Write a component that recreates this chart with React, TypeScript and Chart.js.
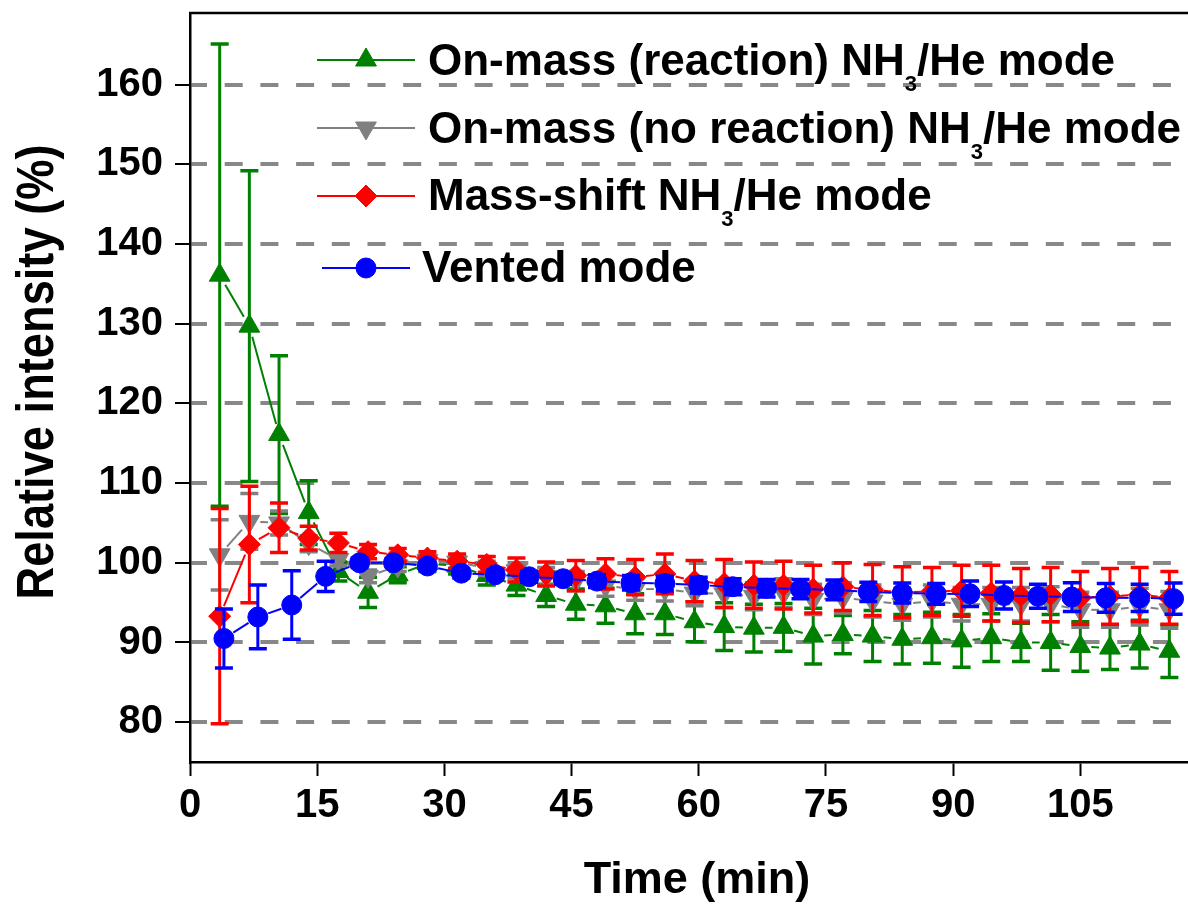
import React, { useEffect, useRef } from "react";
import { Chart, registerables } from "chart.js";

Chart.register(...registerables);

const FONT = '"Liberation Sans", Arial, Helvetica, sans-serif';

// ---------------- data ----------------
const nh3Times = [3.5, 7, 10.5, 14, 17.5, 21, 24.5, 28, 31.5, 35, 38.5, 42, 45.5, 49, 52.5, 56, 59.5, 63, 66.5, 70, 73.5, 77, 80.5, 84, 87.5, 91, 94.5, 98, 101.5, 105, 108.5, 112, 115.5];
const ventedTimes = [4, 8, 12, 16, 20, 24, 28, 32, 36, 40, 44, 48, 52, 56, 60, 64, 68, 72, 76, 80, 84, 88, 92, 96, 100, 104, 108, 112, 116];

const reactionMean = [136.1, 129.7, 116.1, 106.3, 98.9, 96.3, 98.5, 99.9, 99.6, 98.4, 97.2, 95.9, 94.8, 94.6, 93.6, 93.6, 92.6, 92.0, 91.8, 91.9, 90.8, 91.0, 90.8, 90.4, 90.6, 90.2, 90.6, 90.0, 90.0, 89.5, 89.3, 89.8, 88.9];
const reactionErr = [29, 19.5, 9.9, 4.0, 1.2, 1.9, 1.0, 1.0, 1.0, 1.2, 1.3, 1.4, 1.9, 2.2, 2.5, 2.6, 2.5, 3.0, 3.0, 3.0, 3.5, 2.4, 3.2, 3.1, 3.2, 3.3, 3.0, 2.4, 3.5, 3.1, 2.7, 3.0, 3.3];

const noReactionMean = [101.0, 105.2, 105.0, 102.4, 100.4, 98.3, 99.6, 100.3, 100.1, 99.3, 99.0, 98.3, 97.7, 97.1, 96.7, 96.7, 96.2, 96.1, 95.8, 96.2, 95.4, 95.6, 95.2, 94.8, 95.2, 94.8, 94.8, 94.8, 94.8, 94.1, 94.1, 94.5, 94.1];
const noReactionErr = [4.4, 3.5, 1.5, 1.0, 0.8, 0.8, 0.7, 0.7, 0.8, 0.9, 1.0, 1.1, 1.2, 1.3, 1.4, 1.5, 1.6, 1.7, 1.7, 1.8, 1.9, 1.9, 2.0, 2.0, 2.0, 2.1, 2.1, 2.1, 2.2, 2.2, 2.2, 2.3, 2.3];

const massShiftMean = [93.3, 102.3, 104.4, 103.1, 102.5, 101.4, 101.0, 100.6, 100.2, 99.8, 99.1, 98.6, 98.4, 98.6, 98.2, 98.6, 97.7, 97.4, 97.2, 97.2, 96.7, 97.0, 96.6, 96.3, 96.4, 96.5, 96.2, 95.9, 96.0, 95.6, 95.8, 96.0, 95.6];
const massShiftErr = [13.5, 7.3, 3.1, 1.5, 1.2, 0.9, 0.8, 0.8, 0.9, 1.0, 1.5, 1.5, 1.9, 1.9, 2.2, 2.5, 2.6, 3.0, 2.9, 3.0, 3.0, 3.0, 3.2, 3.2, 3.0, 3.2, 3.5, 3.4, 3.4, 3.3, 3.5, 3.4, 3.3];

const ventedMean = [90.5, 93.2, 94.7, 98.3, 100.0, 100.0, 99.6, 98.7, 98.5, 98.25, 98.0, 97.7, 97.5, 97.4, 97.2, 97.0, 96.8, 96.7, 96.6, 96.35, 96.2, 96.1, 96.1, 95.9, 95.8, 95.7, 95.6, 95.6, 95.5];
const ventedErr = [3.7, 4.0, 4.3, 1.9, 0.6, 0.5, 0.5, 0.6, 0.6, 0.7, 0.7, 0.8, 0.9, 0.9, 1.0, 1.0, 1.1, 1.2, 1.25, 1.2, 1.25, 1.3, 1.6, 1.7, 1.5, 1.8, 1.8, 1.7, 1.95];

const xTicks = [0, 15, 30, 45, 60, 75, 90, 105];
const yTicks = [80, 90, 100, 110, 120, 130, 140, 150, 160];
const xRange = [0, 117.7];
const yRange = [75, 169];

const legendLabels = [
  ["On-mass (reaction) NH", "3", "/He mode"],
  ["On-mass (no reaction) NH", "3", "/He mode"],
  ["Mass-shift NH", "3", "/He mode"],
  ["Vented mode", "", ""],
];
const xTitle = "Time (min)";
const yTitle = "Relative intensity (%)";

// ---------------- helpers ----------------
function toPoints(xs: number[], ys: number[]) {
  return xs.map((x, i) => ({ x, y: ys[i] }));
}

function drawMarker(ctx: CanvasRenderingContext2D, style: string, x: number, y: number, r: number, rot: number, color: string) {
  ctx.save();
  ctx.fillStyle = color;
  ctx.strokeStyle = color;
  ctx.lineWidth = 1;
  ctx.translate(x, y);
  ctx.rotate((rot * Math.PI) / 180);
  ctx.beginPath();
  if (style === "circle") {
    ctx.arc(0, 0, r, 0, Math.PI * 2);
  } else if (style === "triangle") {
    for (let k = 0; k < 3; k++) {
      const a = (k * 2 * Math.PI) / 3;
      const px = Math.sin(a) * r;
      const py = -Math.cos(a) * r;
      if (k === 0) ctx.moveTo(px, py);
      else ctx.lineTo(px, py);
    }
    ctx.closePath();
  } else {
    ctx.moveTo(-r, 0);
    ctx.lineTo(0, -r);
    ctx.lineTo(r, 0);
    ctx.lineTo(0, r);
    ctx.closePath();
  }
  ctx.fill();
  ctx.stroke();
  ctx.restore();
}

// lines with gaps around symbols + error bars, drawn just before each dataset's markers
const linesAndErrorsPlugin = {
  id: "linesAndErrors",
  beforeDatasetDraw(chart: any, args: any) {
    const ds: any = chart.data.datasets[args.index];
    const pts: any[] = args.meta.data;
    const ctx: CanvasRenderingContext2D = chart.ctx;
    const yScale = chart.scales.y;
    const area = chart.chartArea;
    ctx.save();
    ctx.beginPath();
    ctx.rect(area.left, area.top, area.right - area.left, area.bottom - area.top);
    ctx.clip();
    ctx.strokeStyle = ds.borderColor;
    ctx.lineCap = "butt";
    const gap = ds.lineGap;
    ctx.lineWidth = 2;
    for (let i = 0; i < pts.length - 1; i++) {
      const a = pts[i];
      const b = pts[i + 1];
      const dx = b.x - a.x;
      const dy = b.y - a.y;
      const len = Math.hypot(dx, dy);
      if (len <= 2 * gap) continue;
      const ux = dx / len;
      const uy = dy / len;
      ctx.beginPath();
      ctx.moveTo(a.x + ux * gap, a.y + uy * gap);
      ctx.lineTo(b.x - ux * gap, b.y - uy * gap);
      ctx.stroke();
    }
    const errs: number[] = ds.errorValues;
    ds.data.forEach((d: any, i: number) => {
      const p = pts[i];
      const yTop = yScale.getPixelForValue(d.y + errs[i]);
      const yBot = yScale.getPixelForValue(d.y - errs[i]);
      ctx.lineWidth = 3;
      ctx.beginPath();
      ctx.moveTo(p.x, yTop);
      ctx.lineTo(p.x, yBot);
      ctx.stroke();
      ctx.lineWidth = 3.5;
      ctx.beginPath();
      ctx.moveTo(p.x - 9, yTop);
      ctx.lineTo(p.x + 9, yTop);
      ctx.moveTo(p.x - 9, yBot);
      ctx.lineTo(p.x + 9, yBot);
      ctx.stroke();
    });
    ctx.restore();
  },
};

const framePlugin = {
  id: "frameLegendTitles",
  afterDraw(chart: any) {
    const ctx: CanvasRenderingContext2D = chart.ctx;
    const area = chart.chartArea;
    ctx.save();
    // top frame line
    ctx.strokeStyle = "#000";
    ctx.lineWidth = 2.5;
    ctx.beginPath();
    ctx.moveTo(area.left - 1, area.top);
    ctx.lineTo(area.right, area.top);
    ctx.stroke();

    // legend
    const rows = [
      { line: [317, 415], y: 60, tx: 428, base: 75 },
      { line: [317, 415], y: 128, tx: 428, base: 143 },
      { line: [317, 415], y: 196, tx: 428, base: 210 },
      { line: [322, 410], y: 268, tx: 422, base: 282 },
    ];
    [0, 1, 2, 3].forEach((di, r) => {
      const ds: any = chart.data.datasets[di];
      const row = rows[r];
      ctx.strokeStyle = ds.borderColor;
      ctx.lineWidth = 2;
      ctx.beginPath();
      ctx.moveTo(row.line[0], row.y);
      ctx.lineTo(row.line[1], row.y);
      ctx.stroke();
      drawMarker(ctx, ds.markerShape, (row.line[0] + row.line[1]) / 2, row.y, ds.pointRadius, ds.pointRotation || 0, ds.backgroundColor);
      const [pre, sub, post] = legendLabels[r];
      ctx.fillStyle = "#000";
      ctx.textBaseline = "alphabetic";
      ctx.textAlign = "left";
      ctx.font = `bold 44px ${FONT}`;
      ctx.fillText(pre, row.tx, row.base);
      let x = row.tx + ctx.measureText(pre).width;
      if (sub) {
        ctx.font = `bold 22px ${FONT}`;
        ctx.fillText(sub, x, row.base + 16);
        x += ctx.measureText(sub).width;
        ctx.font = `bold 44px ${FONT}`;
        ctx.fillText(post, x, row.base);
      }
    });

    // axis titles
    ctx.fillStyle = "#000";
    ctx.font = `bold 45px ${FONT}`;
    ctx.textAlign = "center";
    ctx.textBaseline = "alphabetic";
    ctx.fillText(xTitle, 697, 893);

    ctx.save();
    ctx.translate(53, 372);
    ctx.rotate(-Math.PI / 2);
    ctx.font = `bold 51px ${FONT}`;
    const w = ctx.measureText(yTitle).width;
    ctx.scale(455 / w, 1);
    ctx.fillText(yTitle, 0, 0);
    ctx.restore();
    ctx.restore();
  },
};

function zeroPadding(s: any) {
  s.paddingTop = 0;
  s.paddingBottom = 0;
  s.paddingLeft = 0;
  s.paddingRight = 0;
}

export default function App() {
  const ref = useRef<HTMLCanvasElement>(null);
  useEffect(() => {
    document.body.style.margin = "0";
    const mk = (label: string, xs: number[], ys: number[], errs: number[], color: string, shape: string, pointStyle: string, radius: number, rotation: number, order: number) => ({
      label,
      data: toPoints(xs, ys),
      errorValues: errs,
      lineGap: 11,
      markerShape: shape,
      showLine: false,
      pointStyle,
      pointRadius: radius,
      pointHoverRadius: radius,
      pointRotation: rotation,
      pointBorderWidth: 1,
      backgroundColor: color,
      borderColor: color,
      order,
    });
    const chart = new Chart(ref.current as HTMLCanvasElement, {
      type: "scatter",
      data: {
        datasets: [
          mk("On-mass (reaction) NH3/He mode", nh3Times, reactionMean, reactionErr, "#008000", "triangle", "triangle", 12, 0, 4),
          mk("On-mass (no reaction) NH3/He mode", nh3Times, noReactionMean, noReactionErr, "#808080", "triangle", "triangle", 12, 180, 3),
          mk("Mass-shift NH3/He mode", nh3Times, massShiftMean, massShiftErr, "#ff0000", "rectRot", "rectRot", 11, 0, 2),
          mk("Vented mode", ventedTimes, ventedMean, ventedErr, "#0000ff", "circle", "circle", 10, 0, 1),
        ] as any,
      },
      options: {
        animation: false,
        responsive: false,
        devicePixelRatio: 1,
        events: [],
        layout: { autoPadding: false, padding: { top: 13, right: 0, left: 0, bottom: 0 } },
        plugins: {
          legend: { display: false },
          tooltip: { enabled: false },
          title: { display: false },
        },
        scales: {
          x: {
            type: "linear",
            min: xRange[0],
            max: xRange[1],
            afterFit: (s: any) => {
              s.height = 143;
              zeroPadding(s);
            },
            afterBuildTicks: (s: any) => {
              s.ticks = xTicks.map((v) => ({ value: v }));
            },
            border: { display: true, color: "#000", width: 2.5 },
            grid: {
              drawOnChartArea: false,
              drawTicks: true,
              tickLength: 14,
              tickColor: "#000",
              tickWidth: 2,
            },
            ticks: {
              autoSkip: false,
              maxRotation: 0,
              padding: 6,
              color: "#000",
              font: { family: FONT, size: 40, weight: "bold" },
            },
          },
          y: {
            type: "linear",
            min: yRange[0],
            max: yRange[1],
            afterFit: (s: any) => {
              s.width = 190;
              zeroPadding(s);
            },
            afterBuildTicks: (s: any) => {
              s.ticks = yTicks.map((v) => ({ value: v }));
            },
            border: { display: true, color: "#000", width: 2.5, dash: [18, 17.7], dashOffset: 2.5 },
            grid: {
              color: "#888888",
              lineWidth: 4,
              drawTicks: true,
              tickLength: 15,
              tickColor: "#000",
              tickWidth: 2,
              tickBorderDash: [],
            } as any,
            ticks: {
              autoSkip: false,
              padding: 12,
              color: "#000",
              font: { family: FONT, size: 40, weight: "bold" },
            },
          },
        },
      } as any,
      plugins: [linesAndErrorsPlugin, framePlugin],
    });
    return () => chart.destroy();
  }, []);
  return (
    <div style={{ width: 1188, height: 905, overflow: "hidden" }}>
      <canvas ref={ref} width={1188} height={905} style={{ display: "block" }} />
    </div>
  );
}
